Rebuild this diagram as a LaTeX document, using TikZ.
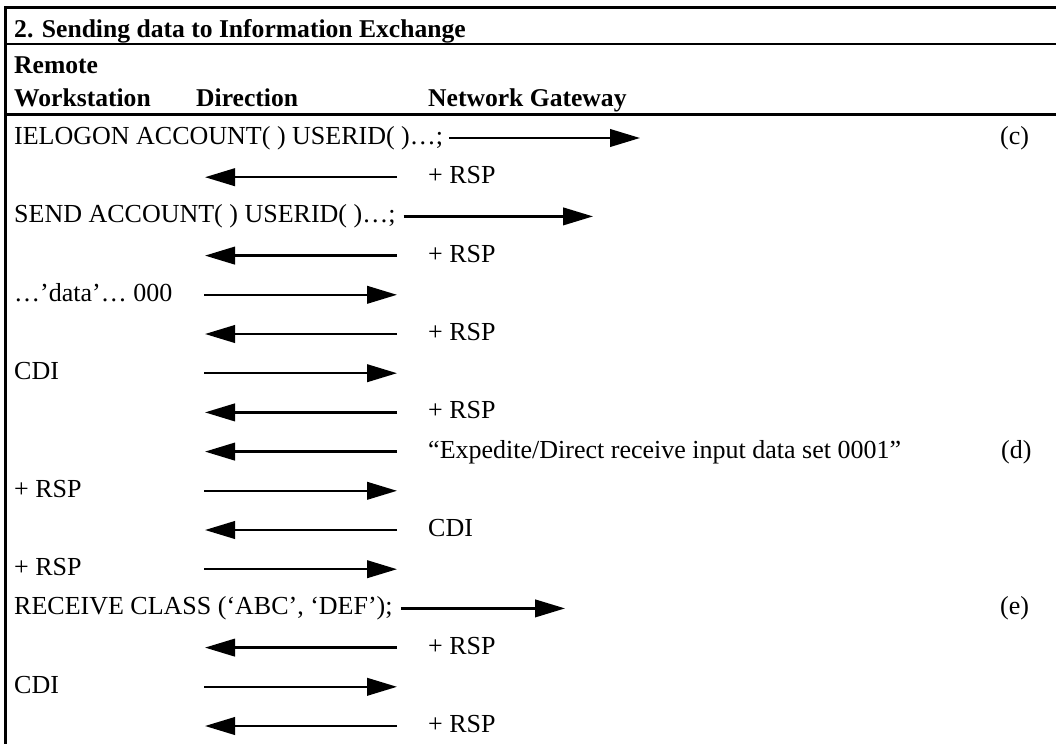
\documentclass[tikz,border=0pt]{standalone}
\usepackage{fontspec}
\setmainfont{Liberation Serif}
\usetikzlibrary{arrows.meta}
\begin{document}
\begin{tikzpicture}[x=1pt,y=-1pt,
  txt/.style={anchor=base west,inner sep=0pt,font=\fontsize{26}{30}\selectfont},
  hdr/.style={anchor=base west,inner sep=0pt,font=\bfseries\fontsize{25.6}{30}\selectfont},
  msg/.style={line width=2.4pt,-{Triangle[length=30pt,width=17.5pt]}},
  rulel/.style={line width=2.8pt}]
\useasboundingbox (0,0) rectangle (1056,744);
% frame
\coordinate (tl) at (5.5,7.5);
\coordinate (tr) at (1056,7.5);
\coordinate (bl) at (5.5,744);
\coordinate (m1l) at (5.5,44);
\coordinate (m1r) at (1056,44);
\coordinate (m2l) at (5.5,114.5);
\coordinate (m2r) at (1056,114.5);
\draw[rulel] (4.1,7.5) -- (tr);
\draw[rulel] (tl) -- (bl);
\draw[rulel] (m1l) -- (m1r);
\draw[rulel] (m2l) -- (m2r);
% headers
\node[hdr] (title) at (14,37) {2. Sending data to Information Exchange};
\node[hdr] (hremote) at (14,73) {Remote};
\node[hdr] (hwork) at (14,106.5) {Workstation};
\node[hdr] (hdir) at (196,106.5) {Direction};
\node[hdr] (hgate) at (428,106.5) {Network Gateway};
% row 1
\node[txt] (w1) at (14,144.5) {IELOGON ACCOUNT( ) USERID( )…;};
\coordinate (s1) at ([shift={(6pt,6.5pt)}]w1.base east);
\coordinate (e1) at (640,138);
\draw[msg] (s1) -- (e1);
\node[txt] (n1) at (1000,144.5) {(c)};
% row 2
\coordinate (s2) at (397,177.2);
\coordinate (e2) at (205,177.2);
\draw[msg] (s2) -- (e2);
\node[txt] (g2) at (428,183.7) {+ RSP};
% row 3
\node[txt] (w3) at (14,222.9) {SEND ACCOUNT( ) USERID( )…;};
\coordinate (s3) at ([shift={(8pt,6.5pt)}]w3.base east);
\coordinate (e3) at (593,216.4);
\draw[msg] (s3) -- (e3);
% row 4
\coordinate (s4) at (397,255.6);
\coordinate (e4) at (205,255.6);
\draw[msg] (s4) -- (e4);
\node[txt] (g4) at (428,262.1) {+ RSP};
% row 5
\node[txt] (w5) at (14,301.3) {…’data’… 000};
\coordinate (s5) at (204,294.8);
\coordinate (e5) at (397,294.8);
\draw[msg] (s5) -- (e5);
% row 6
\coordinate (s6) at (397,334);
\coordinate (e6) at (205,334);
\draw[msg] (s6) -- (e6);
\node[txt] (g6) at (428,340.5) {+ RSP};
% row 7
\node[txt] (w7) at (14,379.7) {CDI};
\coordinate (s7) at (204,373.2);
\coordinate (e7) at (397,373.2);
\draw[msg] (s7) -- (e7);
% row 8
\coordinate (s8) at (397,412.4);
\coordinate (e8) at (205,412.4);
\draw[msg] (s8) -- (e8);
\node[txt] (g8) at (428,418.9) {+ RSP};
% row 9
\coordinate (s9) at (397,451.6);
\coordinate (e9) at (205,451.6);
\draw[msg] (s9) -- (e9);
\node[txt] (g9) at (428,458.1) {“Expedite/Direct receive input data set 0001”};
\node[txt] (n9) at (1001,458.1) {(d)};
% row 10
\node[txt] (w10) at (14,497.3) {+ RSP};
\coordinate (s10) at (204,490.8);
\coordinate (e10) at (397,490.8);
\draw[msg] (s10) -- (e10);
% row 11
\coordinate (s11) at (397,530);
\coordinate (e11) at (205,530);
\draw[msg] (s11) -- (e11);
\node[txt] (g11) at (428,536.5) {CDI};
% row 12
\node[txt] (w12) at (14,575.7) {+ RSP};
\coordinate (s12) at (204,569.2);
\coordinate (e12) at (397,569.2);
\draw[msg] (s12) -- (e12);
% row 13
\node[txt] (w13) at (14,614.9) {RECEIVE CLASS (‘ABC’, ‘DEF’);};
\coordinate (s13) at ([shift={(8pt,6.5pt)}]w13.base east);
\coordinate (e13) at (565,608.4);
\draw[msg] (s13) -- (e13);
\node[txt] (n13) at (1000,614.9) {(e)};
% row 14
\coordinate (s14) at (397,647.6);
\coordinate (e14) at (205,647.6);
\draw[msg] (s14) -- (e14);
\node[txt] (g14) at (428,654.1) {+ RSP};
% row 15
\node[txt] (w15) at (14,693.3) {CDI};
\coordinate (s15) at (204,686.8);
\coordinate (e15) at (397,686.8);
\draw[msg] (s15) -- (e15);
% row 16
\coordinate (s16) at (397,726);
\coordinate (e16) at (205,726);
\draw[msg] (s16) -- (e16);
\node[txt] (g16) at (428,732.5) {+ RSP};
\end{tikzpicture}
\end{document}
